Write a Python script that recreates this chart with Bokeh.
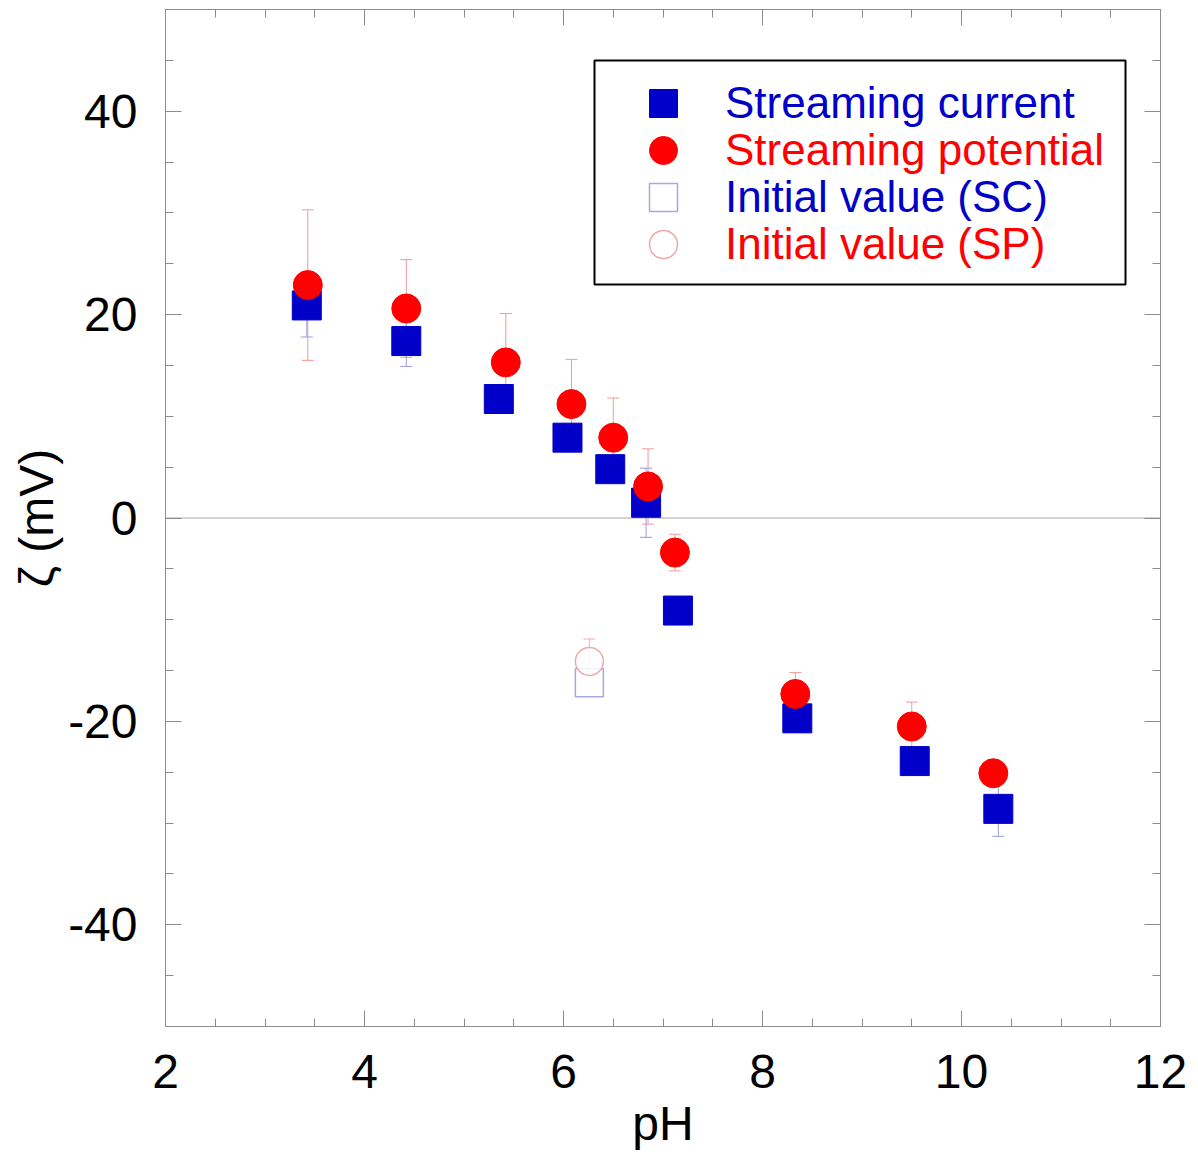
from bokeh.plotting import figure
from bokeh.models import (Range1d, LinearAxis, FixedTicker, Span, Whisker, TeeHead,
                          ColumnDataSource, Legend, LegendItem, BoxAnnotation)
from bokeh.embed import file_html
from bokeh.resources import INLINE

# ---- data ----
ph_sc = [3.42, 4.42, 5.35, 6.04, 6.47, 6.83, 7.15, 8.35, 9.53, 10.37]
zeta_sc = [20.9, 17.4, 11.7, 7.9, 4.8, 1.5, -9.1, -19.7, -23.9, -28.6]
err_sc = [3.1, 2.5, 1.2, 1.2, 1.2, 3.4, 1.0, 1.2, 1.2, 2.7]

ph_sp = [3.43, 4.42, 5.42, 6.08, 6.50, 6.85, 7.12, 8.33, 9.50, 10.32]
zeta_sp = [22.9, 20.6, 15.3, 11.2, 7.9, 3.1, -3.4, -17.3, -20.5, -25.1]
err_sp = [7.4, 4.8, 4.8, 4.4, 3.9, 3.7, 1.8, 2.1, 2.4, 1.2]

ph_init_sc = [6.26]
zeta_init_sc = [-16.2]
err_init_sc = [1.0]

ph_init_sp = [6.26]
zeta_init_sp = [-14.1]
err_init_sp = [2.2]

labels = ["Streaming current", "Streaming potential", "Initial value (SC)", "Initial value (SP)"]
x_ticks = [2, 4, 6, 8, 10, 12]
y_ticks = [-40, -20, 0, 20, 40]

BLUE = "#0000c8"
RED = "#ff0000"
FONT = "Liberation Sans"
AXC = "#8c8c8c"

p = figure(width=1198, height=1155, output_backend="svg", toolbar_location=None,
           x_range=Range1d(2, 12), y_range=Range1d(-50, 50),
           min_border_left=165, min_border_right=38, min_border_top=9, min_border_bottom=129)
p.xgrid.visible = False
p.ygrid.visible = False
p.outline_line_color = AXC
p.background_fill_color = "white"
p.border_fill_color = "white"

xt = FixedTicker(ticks=x_ticks, minor_ticks=[2 + 0.5 * i for i in range(21)])
yt = FixedTicker(ticks=y_ticks, minor_ticks=[-50 + 5 * i for i in range(21)])


def style_axis(ax, ticks, show_labels):
    ax.axis_line_color = AXC
    ax.major_tick_line_color = AXC
    ax.minor_tick_line_color = AXC
    ax.major_tick_in = 16
    ax.major_tick_out = 0
    ax.minor_tick_in = 8
    ax.minor_tick_out = 0
    if show_labels:
        ax.major_label_overrides = {t: str(t) for t in ticks}
        ax.major_label_text_font = FONT
        ax.major_label_text_font_size = "48px"
        ax.major_label_text_color = "black"
        ax.axis_label_text_font = FONT
        ax.axis_label_text_font_size = "48px"
        ax.axis_label_text_font_style = "normal"
        ax.axis_label_text_color = "black"
    else:
        ax.major_label_overrides = {t: "" for t in ticks}
        ax.major_label_standoff = 0


style_axis(p.xaxis[0], x_ticks, True)
style_axis(p.yaxis[0], y_ticks, True)
p.xaxis[0].ticker = xt
p.yaxis[0].ticker = yt
p.xaxis[0].axis_label = "pH"
p.yaxis[0].axis_label = "ζ (mV)"
p.xaxis[0].major_label_standoff = 28
p.yaxis[0].major_label_standoff = 28
p.xaxis[0].axis_label_standoff = 6
p.yaxis[0].axis_label_standoff = 2

top_ax = LinearAxis(ticker=xt)
right_ax = LinearAxis(ticker=yt)
style_axis(top_ax, x_ticks, False)
style_axis(right_ax, y_ticks, False)
p.add_layout(top_ax, "above")
p.add_layout(right_ax, "right")

p.add_layout(Span(location=0, dimension="width", line_color="#a8a8a8", line_width=1, level="underlay"))

# ---- error bars ----
def add_err(xs, ys, es, color):
    src = ColumnDataSource(dict(x=xs, upper=[y + e for y, e in zip(ys, es)],
                                lower=[y - e for y, e in zip(ys, es)]))
    w = Whisker(source=src, base="x", upper="upper", lower="lower", dimension="height",
                line_color=color, line_width=1, level="underlay",
                upper_head=TeeHead(size=12, line_color=color, line_width=1),
                lower_head=TeeHead(size=12, line_color=color, line_width=1))
    p.add_layout(w)

add_err(ph_sp, zeta_sp, err_sp, "#f09a9a")
add_err(ph_sc, zeta_sc, err_sc, "#9a9ae0")
add_err(ph_init_sp, zeta_init_sp, err_init_sp, "#f0b0b0")
add_err(ph_init_sc, zeta_init_sc, err_init_sc, "#b0b0e8")

# ---- markers ----
r_isc = p.scatter(ph_init_sc, zeta_init_sc, marker="square", size=28, fill_color="white",
                  line_color="#a8a8e0", line_width=1.5)
r_isp = p.scatter(ph_init_sp, zeta_init_sp, marker="circle", size=28, fill_color="white",
                  fill_alpha=0.85, line_color="#f0a8a8", line_width=1.5)
r_sc = p.scatter(ph_sc, zeta_sc, marker="square", size=29, fill_color=BLUE, line_color=BLUE)
r_sp = p.scatter(ph_sp, zeta_sp, marker="circle", size=29, fill_color=RED, line_color=RED)

# ---- legend: bordered box + one transparent legend per row ----
FRAME_BOTTOM_PX = 1026      # canvas y of frame bottom
FRAME_LEFT_PX = 165
BOX_L, BOX_R, BOX_T, BOX_B = 594, 1125, 60, 284   # canvas pixels
p.add_layout(BoxAnnotation(left=BOX_L - FRAME_LEFT_PX, right=BOX_R - FRAME_LEFT_PX,
                           top=FRAME_BOTTOM_PX - BOX_T, bottom=FRAME_BOTTOM_PX - BOX_B,
                           left_units="screen", right_units="screen",
                           top_units="screen", bottom_units="screen",
                           fill_color="white", fill_alpha=1,
                           line_color="black", line_width=2, line_alpha=1))

PITCH = 47
GH = 70
PAD = 7
GW = 124
row_renderers = [r_sc, r_sp, r_isc, r_isp]
row_colors = [BLUE, RED, BLUE, RED]
for i, (lab, rr, col) in enumerate(zip(labels, row_renderers, row_colors)):
    yc = BOX_T + 43 + PITCH * i
    lg = Legend(items=[LegendItem(label=lab, renderers=[rr])],
                location=(BOX_L - FRAME_LEFT_PX, FRAME_BOTTOM_PX - (yc + GH // 2 + PAD)),
                orientation="vertical", glyph_height=GH, glyph_width=GW, padding=PAD,
                margin=0, spacing=0, label_standoff=0, label_text_font=FONT,
                label_text_font_size="44px", label_text_baseline="middle",
                label_text_color=col, border_line_alpha=0, background_fill_alpha=0)
    p.add_layout(lg, "center")

open("out.html", "w").write(file_html(p, INLINE))
